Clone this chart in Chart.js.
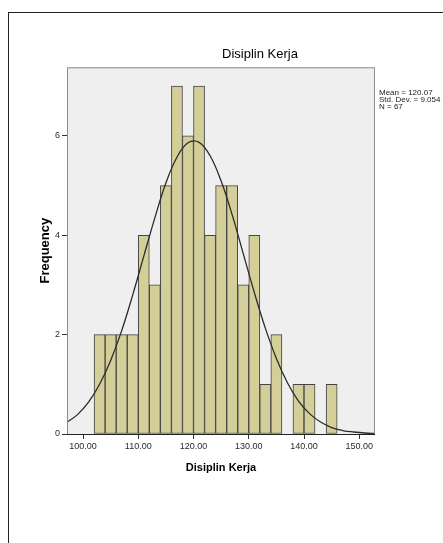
<!DOCTYPE html>
<html>
<head>
<meta charset="utf-8">
<script src="https://cdn.jsdelivr.net/npm/chart.js@4/dist/chart.umd.min.js"></script>
<style>
  html, body { margin: 0; padding: 0; background: #fff; }
  #wrap { position: relative; width: 443px; height: 543px; overflow: hidden; }
  #page { position: absolute; left: 8px; top: 12px; width: 500px; height: 600px;
          border-left: 1.5px solid #222; border-top: 1.5px solid #222; }
  canvas { position: absolute; left: 0; top: 0; }
</style>
</head>
<body>
<div id="wrap">
  <div id="page"></div>
  <canvas id="histChart" width="443" height="543"></canvas>
</div>
<script>
// Histogram bins (mid-points, width 2) and their frequencies
const binMids = [103, 105, 107, 109, 111, 113, 115, 117, 119, 121, 123, 125, 127, 129, 131, 133, 135, 137, 139, 141, 143, 145];
const counts  = [2, 2, 2, 2, 4, 3, 5, 7, 6, 7, 4, 5, 5, 3, 4, 1, 2, 0, 1, 1, 0, 1];

// Normal curve
const curveX = [97, 99, 101, 103, 105, 107, 109, 111, 113, 115, 117, 119, 121, 123, 125, 127, 129, 131, 133, 135, 137, 139, 141, 143, 145, 147, 149, 151, 153];
const curveY = [0.23, 0.39, 0.64, 1.00, 1.48, 2.08, 2.80, 3.58, 4.35, 5.05, 5.57, 5.86, 5.87, 5.60, 5.09, 4.41, 3.63, 2.85, 2.13, 1.52, 1.03, 0.66, 0.41, 0.24, 0.13, 0.07, 0.04, 0.02, 0.01];

// Axis ticks
const xTicks = [100, 110, 120, 130, 140, 150];
const yTicks = [0, 2, 4, 6];

const chartTitle = 'Disiplin Kerja';
const xTitle = 'Disiplin Kerja';
const yTitle = 'Frequency';
const statsLines = ['Mean = 120.07', 'Std. Dev. = 9.054', 'N = 67'];

const FONT = "'Liberation Sans', Arial, sans-serif";

// Latar xám, khung và chữ phụ
const framePlugin = {
    id: 'frame',
    beforeDraw(chart) {
        const { ctx, chartArea: a } = chart;
        ctx.save();
        ctx.fillStyle = '#efefef';
        ctx.fillRect(a.left, a.top, a.right - a.left, a.bottom - a.top);
        ctx.restore();
    },
    afterDraw(chart) {
        const { ctx, chartArea: a } = chart;
        ctx.save();
        ctx.strokeStyle = '#8c8c8c';
        ctx.lineWidth = 1;
        ctx.strokeRect(a.left + 0.5, a.top + 0.5, a.right - a.left - 1, a.bottom - a.top);
        ctx.strokeStyle = '#222';
        ctx.beginPath();
        ctx.moveTo(a.left, a.bottom + 0.5);
        ctx.lineTo(a.right, a.bottom + 0.5);
        ctx.stroke();

        ctx.fillStyle = '#000';
        ctx.font = '13px ' + FONT;
        ctx.textAlign = 'center';
        ctx.textBaseline = 'alphabetic';
        ctx.fillText(chartTitle, 260, 57.5);

        ctx.fillStyle = '#222';
        ctx.font = '8px ' + FONT;
        ctx.textAlign = 'left';
        statsLines.forEach((t, i) => ctx.fillText(t, 379, 95.3 + i * 6.6));
        ctx.restore();
    }
};

new Chart(document.getElementById('histChart'), {
    type: 'bar',
    data: {
        datasets: [
            {
                type: 'line',
                data: curveX.map((x, i) => ({ x: x, y: curveY[i] })),
                borderColor: '#2b2b2b',
                borderWidth: 1.3,
                pointRadius: 0,
                tension: 0.4,
                order: 1
            },
            {
                type: 'bar',
                data: binMids.map((x, i) => ({ x: x, y: counts[i] === 0 ? null : counts[i] })),
                backgroundColor: '#d4ce98',
                borderColor: '#444',
                borderWidth: 1,
                borderSkipped: false,
                barPercentage: 1,
                categoryPercentage: 1,
                order: 2
            }
        ]
    },
    options: {
        responsive: false,
        animation: false,
        layout: { padding: { left: 30, top: 67.3, right: 68, bottom: 64 } },
        plugins: { legend: { display: false }, tooltip: { enabled: false } },
        scales: {
            x: {
                type: 'linear',
                min: 97.1,
                max: 152.85,
                offset: false,
                afterBuildTicks: s => { s.ticks = xTicks.map(v => ({ value: v })); },
                afterFit: s => { s.height = 45; },
                grid: { offset: false, drawOnChartArea: false, drawTicks: true, tickLength: 5, color: '#333' },
                border: { display: false },
                ticks: {
                    padding: 2,
                    maxRotation: 0,
                    autoSkip: false,
                    color: '#2a2a2a',
                    font: { family: FONT, size: 9 },
                    callback: v => Number(v).toFixed(2)
                },
                title: {
                    display: true,
                    text: xTitle,
                    color: '#000',
                    font: { family: FONT, size: 11, weight: 'bold' },
                    padding: { top: 0, bottom: 4.4 }
                }
            },
            y: {
                min: 0,
                max: 7.38,
                afterBuildTicks: s => { s.ticks = yTicks.map(v => ({ value: v })); },
                afterFit: s => { s.width = 37; },
                grid: { drawOnChartArea: false, drawTicks: true, tickLength: 5, color: '#333' },
                border: { display: false },
                ticks: {
                    padding: 2,
                    color: '#2a2a2a',
                    font: { family: FONT, size: 9 }
                },
                title: {
                    display: true,
                    text: yTitle,
                    color: '#000',
                    font: { family: FONT, size: 13, weight: 'bold' },
                    padding: { top: 7.2, bottom: 0 }
                }
            }
        }
    },
    plugins: [framePlugin]
});
</script>
</body>
</html>
